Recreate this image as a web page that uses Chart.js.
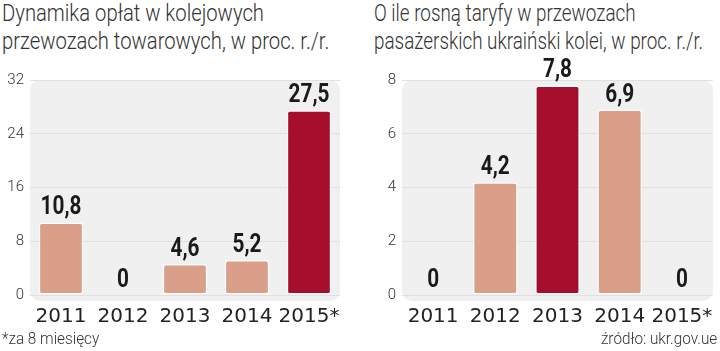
<!DOCTYPE html>
<html>
<head>
<meta charset="utf-8">
<script src="https://cdn.jsdelivr.net/npm/chart.js@4"></script>
<style>
  body { margin: 0; background: #fff; width: 720px; height: 351px; overflow: hidden; position: relative; }
  .title { position: absolute; top: 0; font-family: "Roboto", sans-serif; font-weight: 300; font-size: 23px; line-height: 28px; color: #333; white-space: nowrap; transform: scaleX(0.88); transform-origin: left top; }
  .note { position: absolute; top: 328px; font-family: "Roboto", sans-serif; font-weight: 300; font-size: 17px; color: #333; white-space: nowrap; transform: scaleX(0.9); }
  .box { position: absolute; top: 50px; height: 290px; }
</style>
</head>
<body>
<div class="title" style="left:2px">Dynamika opłat w kolejowych<br>przewozach towarowych, w proc. r./r.</div>
<div class="title" style="left:374px;transform:scaleX(0.82)">O ile rosną taryfy w przewozach<br>pasażerskich ukraiński kolei, w proc. r./r.</div>
<div class="box" style="left:0;width:360px"><canvas id="freight-chart"></canvas></div>
<div class="box" style="left:360px;width:360px"><canvas id="passenger-chart"></canvas></div>
<div class="note" style="left:2px;transform-origin:left top">*za 8 miesięcy</div>
<div class="note" style="right:3px;transform-origin:right top">źródło: ukr.gov.ue</div>
<script>
// --- Data ---
const YEARS = ['2011', '2012', '2013', '2014', '2015*'];
const FREIGHT_VALUES = [10.8, 0, 4.6, 5.2, 27.5];
const PASSENGER_VALUES = [0, 4.2, 7.8, 6.9, 0];
const FREIGHT_HIGHLIGHT = 4;   // index of dark bar
const PASSENGER_HIGHLIGHT = 2;

const LIGHT = '#d99f89';
const DARK = '#a50f2d';

// rounded grey panel behind the plot
const panelPlugin = {
    id: 'panel',
    beforeDraw(chart) {
        const { ctx, chartArea: a } = chart;
        ctx.save();
        ctx.fillStyle = '#f0f0f0';
        ctx.beginPath();
        ctx.roundRect(a.left, a.top, a.right - a.left, a.bottom - a.top + 6, 10);
        ctx.fill();
        ctx.restore();
    }
};

// value labels above the bars (squeezed horizontally for a condensed look)
const valueLabels = {
    id: 'valueLabels',
    afterDatasetsDraw(chart) {
        const { ctx } = chart;
        const meta = chart.getDatasetMeta(0);
        const data = chart.data.datasets[0].data;
        const sx = 0.8;
        meta.data.forEach((bar, i) => {
            ctx.save();
            ctx.font = 'bold 26px "Roboto", sans-serif';
            ctx.fillStyle = '#1a1a1a';
            ctx.textAlign = 'center';
            ctx.textBaseline = 'alphabetic';
            ctx.translate(bar.x, bar.y - 8);
            ctx.scale(sx, 1);
            ctx.fillText(String(data[i]).replace('.', ','), 0, 0);
            ctx.restore();
        });
    }
};

function makeChart(id, values, highlight, max, step, yWidth, padRight) {
    const colors = values.map((v, i) => i === highlight ? DARK : LIGHT);
    return new Chart(document.getElementById(id), {
        type: 'bar',
        data: {
            labels: YEARS,
            datasets: [{
                data: values,
                backgroundColor: colors,
                borderColor: 'rgba(255,255,255,0.85)',
                borderWidth: 1.5,
                borderRadius: 3,
                borderSkipped: false,
                categoryPercentage: 1,
                barPercentage: 0.72
            }]
        },
        options: {
            responsive: true,
            maintainAspectRatio: false,
            animation: false,
            layout: { padding: { top: 30, right: padRight, bottom: 0, left: 0 } },
            plugins: { legend: { display: false }, tooltip: { enabled: false } },
            scales: {
                y: {
                    min: 0, max: max,
                    ticks: { stepSize: step, color: '#333', padding: 6, font: { family: 'Roboto', size: 15, weight: '300' } },
                    grid: { color: '#e0e0e0', drawTicks: false },
                    border: { display: false },
                    afterFit: s => { s.width = yWidth; }
                },
                x: {
                    ticks: { color: '#222', padding: 2, maxRotation: 0, minRotation: 0, autoSkip: false, font: { family: 'DejaVu Sans', size: 20 } },
                    grid: { display: false },
                    border: { display: false },
                    afterFit: s => { s.height = 45; }
                }
            }
        },
        plugins: [panelPlugin, valueLabels]
    });
}

makeChart('freight-chart', FREIGHT_VALUES, FREIGHT_HIGHLIGHT, 32, 8, 30, 20);
makeChart('passenger-chart', PASSENGER_VALUES, PASSENGER_HIGHLIGHT, 8, 2, 42, 7);
</script>
</body>
</html>
